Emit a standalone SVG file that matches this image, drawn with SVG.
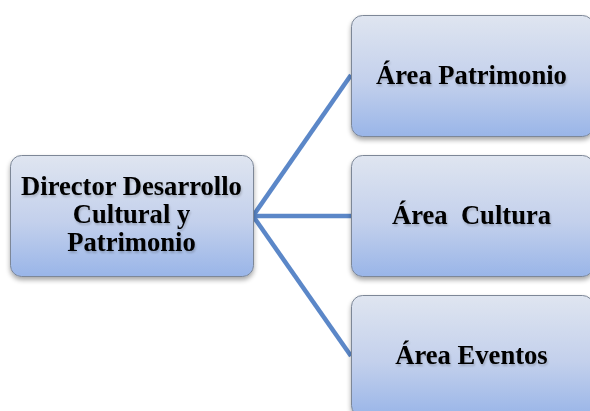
<svg xmlns="http://www.w3.org/2000/svg" width="590" height="411" viewBox="0 0 590 411">
<defs>
<linearGradient id="g" x1="0" y1="0" x2="0" y2="1">
<stop offset="0" stop-color="#dfe5f0"/>
<stop offset="0.55" stop-color="#c3d0ec"/>
<stop offset="1" stop-color="#99b5e8"/>
</linearGradient>
<filter id="sh" x="-10%" y="-10%" width="120%" height="130%">
<feGaussianBlur in="SourceAlpha" stdDeviation="2.5"/>
<feOffset dx="0" dy="3" result="b"/>
<feComponentTransfer><feFuncA type="linear" slope="0.35"/></feComponentTransfer>
<feMerge><feMergeNode/><feMergeNode in="SourceGraphic"/></feMerge>
</filter>
<filter id="ts" x="-5%" y="-20%" width="110%" height="150%">
<feGaussianBlur in="SourceAlpha" stdDeviation="1.3"/>
<feOffset dx="0.5" dy="1.5"/>
<feComponentTransfer><feFuncA type="linear" slope="0.2"/></feComponentTransfer>
<feMerge><feMergeNode/><feMergeNode in="SourceGraphic"/></feMerge>
</filter>
</defs>
<style>
.box{fill:url(#g);stroke:#7d8797;stroke-width:1;filter:url(#sh)}
.t{font-family:'Liberation Serif','Times New Roman',serif;font-weight:700;font-size:26.6px;fill:#000;text-anchor:middle;filter:url(#ts)}
.c{stroke:#5b87c8;stroke-width:4.5;fill:none;stroke-linecap:butt}
</style>
<rect width="590" height="411" fill="#fff"/>
<g id="connectors">
<line class="c" x1="253" y1="216" x2="351" y2="75"/>
<line class="c" x1="253" y1="216" x2="351" y2="216"/>
<line class="c" x1="253" y1="216" x2="351" y2="356"/>
</g>
<g id="director">
<rect class="box" x="10.5" y="155.5" width="243" height="121" rx="11"/>
<text class="t" x="131.5" y="195">Director Desarrollo</text>
<text class="t" x="131.5" y="222.5">Cultural y</text>
<text class="t" x="131.5" y="250.5">Patrimonio</text>
</g>
<g id="patrimonio">
<rect class="box" x="351.5" y="15.5" width="242" height="121" rx="11"/>
<text class="t" x="471.5" y="83.5">Área Patrimonio</text>
</g>
<g id="cultura">
<rect class="box" x="351.5" y="155.5" width="242" height="121" rx="11"/>
<text class="t" x="471.5" y="223.5" xml:space="preserve">Área  Cultura</text>
</g>
<g id="eventos">
<rect class="box" x="351.5" y="295.5" width="242" height="121" rx="11"/>
<text class="t" x="471.5" y="363.5">Área Eventos</text>
</g>
</svg>
